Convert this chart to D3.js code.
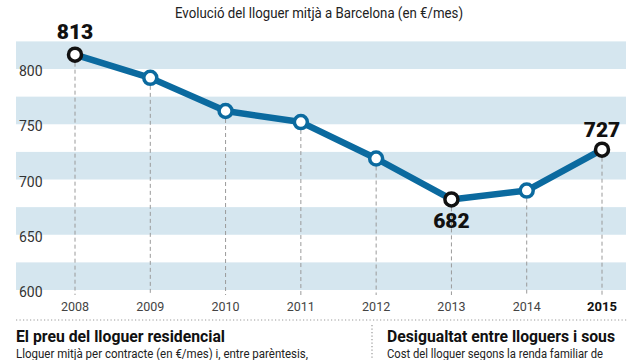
<!DOCTYPE html>
<html><head><meta charset="utf-8">
<script src="https://cdn.jsdelivr.net/npm/d3@7"></script>
<style>
html,body{margin:0;padding:0;background:#fff;}
svg{display:block;font-family:Roboto,"Noto Sans",sans-serif;}
</style></head>
<body><svg id="c" width="640" height="360"></svg>
<script>
const years = ["2008","2009","2010","2011","2012","2013","2014","2015"];
const rent = [813, 792, 762, 752, 719, 682, 690, 727];
const yTicks = [600, 650, 700, 750, 800];
const highlighted = ["2008","2013","2015"];
const title = "Evolució del lloguer mitjà a Barcelona (en €/mes)";
const leftHead = "El preu del lloguer residencial";
const leftSub = "Lloguer mitjà per contracte (en €/mes) i, entre parèntesis,";
const rightHead = "Desigualtat entre lloguers i sous";
const rightSub = "Cost del lloguer segons la renda familiar de";

const svg = d3.select("#c");
const x = d3.scalePoint().domain(years).range([75, 602]);
const y = d3.scaleLinear().domain([600, 825]).range([290, 41.4]);
const blue = "#0b6a9f";

// bands
svg.append("g").selectAll("rect").data(yTicks).join("rect")
  .attr("x", 16).attr("width", 610)
  .attr("y", d => y(d + 25)).attr("height", d => y(d) - y(d + 25))
  .attr("fill", "#d5e6ef");

// y labels
svg.append("g").selectAll("text").data(yTicks).join("text")
  .attr("x", 19).attr("y", d => y(d) + 7)
  .attr("font-size", 14).attr("fill", "#333").text(d => d);

// dashed verticals
const data = years.map((yr, i) => ({yr, v: rent[i]}));
svg.append("g").selectAll("line").data(data).join("line")
  .attr("x1", d => x(d.yr)).attr("x2", d => x(d.yr))
  .attr("y1", d => y(d.v) + 8).attr("y2", 295)
  .attr("stroke", "#9a9a9a").attr("stroke-width", 1).attr("stroke-dasharray", "4,3");

// x labels
svg.append("g").selectAll("text").data(years).join("text")
  .attr("x", d => x(d)).attr("y", 311).attr("text-anchor", "middle")
  .attr("font-size", d => d === "2015" ? 13 : 12.5)
  .attr("font-weight", d => d === "2015" ? 700 : 400)
  .attr("fill", d => d === "2015" ? "#111" : "#444").text(d => d);

// line
svg.append("path").datum(data)
  .attr("d", d3.line().x(d => x(d.yr)).y(d => y(d.v)))
  .attr("fill", "none").attr("stroke", blue).attr("stroke-width", 6.5).attr("stroke-linejoin", "round");

// markers
svg.append("g").selectAll("circle").data(data).join("circle")
  .attr("cx", d => x(d.yr)).attr("cy", d => y(d.v)).attr("r", 6.5)
  .attr("fill", "#fff")
  .attr("stroke", d => highlighted.includes(d.yr) ? "#111" : blue)
  .attr("stroke-width", 3.5);

// value labels
const lab = data.filter(d => highlighted.includes(d.yr));
const off = {"2008": -16, "2013": 29, "2015": -13};
svg.append("g").selectAll("text").data(lab).join("text")
  .attr("x", d => x(d.yr)).attr("y", d => y(d.v) + off[d.yr])
  .attr("text-anchor", "middle").attr("font-size", 21).attr("font-weight", 900)
  .attr("fill", "#111").text(d => d.v);

// title
svg.append("text").attr("x", 175).attr("y", 18).attr("font-size", 15).attr("fill", "#222")
  .attr("textLength", 288).attr("lengthAdjust", "spacingAndGlyphs").text(title);

// separators
svg.append("line").attr("x1", 16).attr("x2", 628).attr("y1", 320).attr("y2", 320)
  .attr("stroke", "#999").attr("stroke-width", 1.2).attr("stroke-dasharray", "1.2,2.3");
svg.append("line").attr("x1", 372).attr("x2", 372).attr("y1", 325).attr("y2", 360)
  .attr("stroke", "#999").attr("stroke-width", 1.2).attr("stroke-dasharray", "1.2,2.3");

// bottom texts
function txt(s, xx, yy, w, fs, fw, col) {
  svg.append("text").attr("x", xx).attr("y", yy).attr("font-size", fs).attr("font-weight", fw)
    .attr("fill", col).attr("textLength", w).attr("lengthAdjust", "spacingAndGlyphs").text(s);
}
txt(leftHead, 16, 342, 209, 16, 700, "#111");
txt(leftSub, 16, 358, 292, 12.5, 400, "#222");
txt(rightHead, 387, 342, 228, 16, 700, "#111");
txt(rightSub, 387, 358, 216, 12.5, 400, "#222");
</script></body></html>
